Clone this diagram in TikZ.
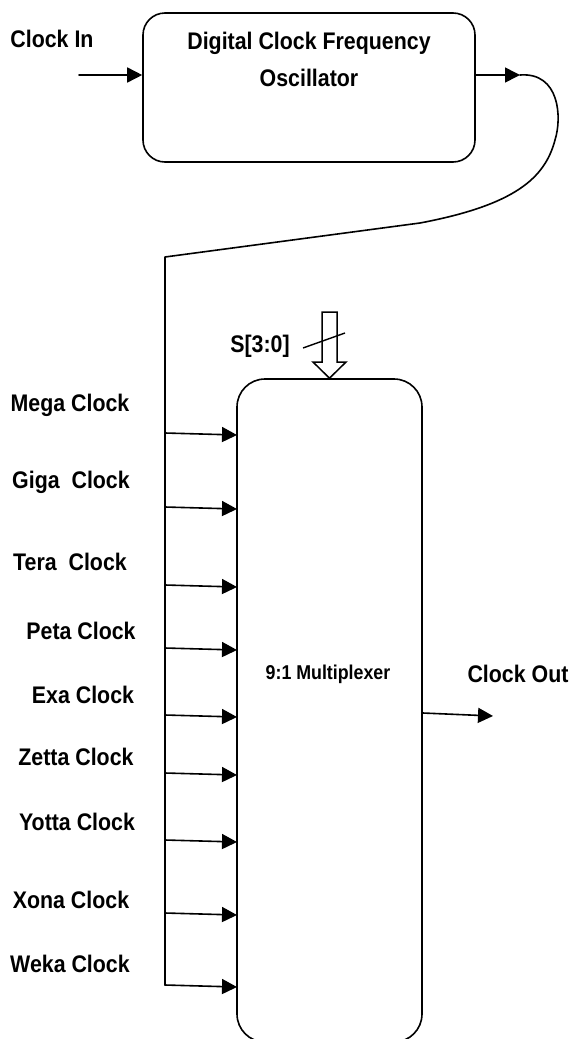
\documentclass[tikz,border=0pt]{standalone}
\usepackage{fontspec}
\setmainfont{Liberation Sans}[FakeStretch=0.89]
\usetikzlibrary{arrows.meta}
\begin{document}
\begin{tikzpicture}[x=1pt,y=-1pt,
  wire/.style={line width=1.6pt, line cap=round, line join=round},
  arr/.style={wire, -{Triangle[length=15pt,width=15pt]}},
  lab/.style={inner sep=0pt, text height=0.72em, text depth=0pt, font=\fontsize{24}{28}\selectfont\bfseries},
  blk/.style={draw, line width=1.6pt, inner sep=0pt}]
\useasboundingbox (0,0) rectangle (574,1039);
% oscillator
\node[blk, rounded corners=22pt, minimum width=332pt, minimum height=149pt] (osc) at (309,87.5) {};
\node[lab] (t1) at (309,46) {Digital Clock Frequency};
\node[lab] (t2) at (309,83) {Oscillator};
\node[lab] (cin) at (52,44) {Clock In};
\coordinate (cinS) at (79,75);
\draw[arr] (cinS) -- (osc.west |- cinS);
\coordinate (oscT) at (520,75);
\draw[arr] (osc.east |- oscT) -- (oscT);
% bus
\coordinate (bend) at (420,223);
\coordinate (btop) at (165,257);
\coordinate (bbot) at (165,985);
\draw[wire] (oscT) .. controls (560,72) and (562,118) .. (555,140)
  .. controls (545,178) and (515,205) .. (bend) -- (btop) -- (bbot);
% multiplexer
\node[blk, rounded corners=28pt, minimum width=185pt, minimum height=663pt] (mux) at (329.5,710.5) {};
\node[lab, font=\fontsize{20}{23}\selectfont\bfseries] (mlab) at (328,676) {9:1 Multiplexer};
% select
\draw[line width=1.5pt, line join=miter] (322,312) -- (337,312) -- (337,362) -- (346,362) -- (mux.north) -- (313,362) -- (322,362) -- cycle;
\coordinate (s1) at (303,348);
\coordinate (s2) at (345,333);
\draw[line width=1.4pt] (s1) -- (s2);
\node[lab] (sl) at (260,349) {S[3:0]};
% inputs
\foreach \y/\t/\lx/\ly in {433/Mega Clock/70/408, 507/Giga\ \ Clock/71/485, 585/Tera\ \ Clock/70/567, 648/Peta Clock/81/636, 715/Exa Clock/83/700, 773/Zetta Clock/76/762, 840/Yotta Clock/77/827, 913/Xona Clock/71/905, 985/Weka Clock/70/969}{
  \coordinate (in\y) at (165,\y);
  \draw[arr] (in\y) -- (237,\y+2);
  \node[lab] at (\lx,\ly) {\t};
}
% output
\coordinate (outT) at (493,716);
\draw[arr] (mux.east |- 0,713) -- (outT);
\node[lab] (cout) at (518,679) {Clock Out};
\end{tikzpicture}
\end{document}
